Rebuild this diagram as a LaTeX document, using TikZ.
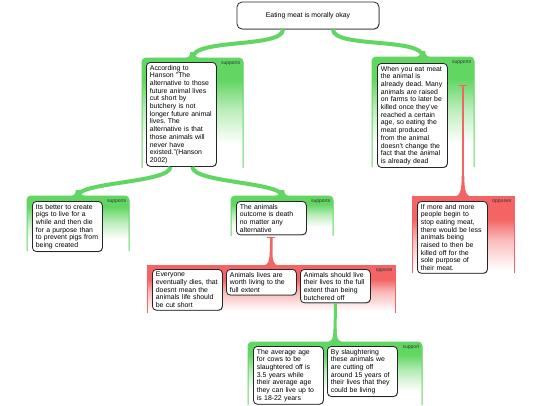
\documentclass[tikz,border=0pt]{standalone}
\usepackage{fontspec}
\setmainfont{Liberation Sans}
\usetikzlibrary{shadows}
\frenchspacing
\definecolor{gcol}{RGB}{98,214,98}
\definecolor{rcol}{RGB}{244,100,100}
\colorlet{gmid}{gcol!45!white}
\colorlet{rmid}{rcol!45!white}
\pgfdeclareverticalshading{gfade}{100bp}{color(0bp)=(white); color(36bp)=(white); color(52bp)=(gmid); color(65bp)=(gcol); color(100bp)=(gcol)}
\pgfdeclareverticalshading{rfade}{100bp}{color(0bp)=(white); color(27bp)=(white); color(47bp)=(rmid); color(60bp)=(rcol); color(100bp)=(rcol)}
\tikzset{
 tbox/.style={draw=black!85, line width=0.8pt, rounded corners=4pt, fill=white, text width=63pt, inner xsep=3.5pt, inner ysep=2.6pt, align=left, anchor=north west, font=\fontsize{6.9}{7.7}\selectfont, drop shadow={shadow xshift=0.5pt, shadow yshift=-0.5pt, fill=black!60, opacity=0.7}},
 lab/.style={font=\fontsize{5}{6}\selectfont, inner sep=0pt, text=black!80},
 gconn/.style={draw=gcol, line width=4pt},
 gconnb/.style={draw=gcol, line width=3pt},
 rconn/.style={draw=rcol, line width=2.6pt},
 rbar/.style={draw=rcol, line width=1.3pt},
}
% green panel: left, top, right, bottom, label, name
\newcommand{\gpanel}[6]{%
 \shade[shading=gfade] (#1,#4) -- (#1,#2+4) .. controls (#1,#2+1.8) and (#1+1.8,#2) .. (#1+4,#2) -- (#3-4,#2) .. controls (#3-1.8,#2) and (#3,#2+1.8) .. (#3,#2+4) -- (#3,#4) -- cycle;
 \draw[gcol, line width=1pt] (#1,#4) -- (#1,#2+4) .. controls (#1,#2+1.8) and (#1+1.8,#2) .. (#1+4,#2) -- (#3-4,#2) .. controls (#3-1.8,#2) and (#3,#2+1.8) .. (#3,#2+4) -- (#3,#4);
 \coordinate (#6) at ({(#1+#3)/2},#2);
 \node[lab, anchor=north east] (#6lab) at (#3-2.5,#2+3.5) {#5};}
% red panel
\newcommand{\rpanel}[6]{%
 \shade[shading=rfade] (#1,#4) rectangle (#3,#2);
 \draw[rcol, line width=1pt] (#1,#4) -- (#1,#2) -- (#3,#2) -- (#3,#4);
 \coordinate (#6) at ({(#1+#3)/2},#2);
 \node[lab, anchor=north east] (#6lab) at (#3-2.5,#2+3.5) {#5};}
\begin{document}
\begin{tikzpicture}[x=1pt,y=-1pt]
\useasboundingbox[fill=white] (0,0) rectangle (540,405);
% panels
\gpanel{142}{58}{243}{168}{supports}{P1}
\gpanel{372}{57}{474}{167}{supports}{P2}
\rpanel{412}{196}{514}{273}{opposes}{P3}
\gpanel{27}{196}{129}{251}{supports}{P4}
\gpanel{231}{196}{333}{236}{supports}{P5}
\rpanel{147}{265}{395}{313}{oppose}{P6}
\gpanel{248}{342}{422}{405}{support}{P7}
% nodes
\node[draw=black!85, line width=0.8pt, rounded corners=5pt, fill=white, minimum width=142pt, minimum height=27pt, font=\fontsize{6.9}{7.7}\selectfont, drop shadow={shadow xshift=0.5pt, shadow yshift=-0.5pt, fill=black!60, opacity=0.7}] (n0) at (308,15.5) {Eating meat is morally okay};
% connectors
\draw[gconn] ([xshift=-25pt]n0.south) .. controls +(0,19) and +(0,-20) .. (P1);
\draw[gconn] ([xshift=25pt]n0.south) .. controls +(0,19) and +(0,-20) .. (P2);
\node[tbox] (n1) at (146,62) {According to\\Hanson "The\\alternative to those\\future animal lives\\cut short by\\butchery is not\\longer future animal\\lives. The\\alternative is that\\those animals will\\never have\\existed."(Hanson\\2002)};
\node[tbox] (n2) at (377,63) {When you eat meat\\the animal is\\already dead. Many\\animals are raised\\on farms to later be\\killed once they've\\reached a certain\\age, so eating the\\meat produced\\from the animal\\doesn't change the\\fact that the animal\\is already dead};
\draw[gconn] ([xshift=-11pt]n1.south) .. controls +(0,16) and +(0,-14) .. (P4);
\draw[gconn] ([xshift=11pt]n1.south) .. controls +(0,16) and +(0,-14) .. (P5);
\foreach \p in {P1,P2,P4,P5}{
 \fill[gcol, shift={(\p)}] (-11,0.5) .. controls (-4,0.5) and (-2.2,-2) .. (-2.2,-6) -- (2.2,-6) .. controls (2.2,-2) and (4,0.5) .. (11,0.5) -- cycle;
}
\coordinate (T1) at (463,85.5);
\draw[rconn] (T1) -- (P3);
\draw[rbar] ([xshift=-4pt]T1) -- ([xshift=4pt]T1);
\fill[rcol, shift={(P3)}] (-9,0.5) .. controls (-3,0.5) and (-1.3,-5) .. (-1.3,-20) -- (1.3,-20) .. controls (1.3,-5) and (3,0.5) .. (9,0.5) -- cycle;
\node[tbox] (n3) at (417,201) {If more and more\\people begin to\\stop eating meat,\\there would be less\\animals being\\raised to then be\\killed off for the\\sole purpose of\\their meat.};
\node[tbox] (n4) at (32,201) {Its better to create\\pigs to live for a\\while and then die\\for a purpose than\\to prevent pigs from\\being created};
\node[tbox] (n5) at (236,201) {The animals\\outcome is death\\no matter any\\alternative};
\coordinate (T2) at ([yshift=-2pt]n5.south);
\draw[rconn] (T2) -- (P6);
\draw[rbar] ([xshift=-4pt]T2) -- ([xshift=4pt]T2);
\fill[rcol, shift={(P6)}] (-8,0.5) .. controls (-3,0.5) and (-1.3,-4) .. (-1.3,-13) -- (1.3,-13) .. controls (1.3,-4) and (3,0.5) .. (8,0.5) -- cycle;
\node[tbox] (nA) at (152,269) {Everyone\\eventually dies, that\\doesnt mean the\\animals life should\\be cut short};
\node[tbox] (nB) at (226,269) {Animals lives are\\worth living to the\\full extent};
\node[tbox] (nC) at (300,269) {Animals should live\\their lives to the full\\extent than being\\butchered off};
\draw[gconnb] (nC.south) -- (P7);
\fill[gcol, shift={(P7)}] (-10,0.5) .. controls (-3.5,0.5) and (-1.5,-3) .. (-1.5,-13) -- (1.5,-13) .. controls (1.5,-3) and (3.5,0.5) .. (10,0.5) -- cycle;
\node[tbox] (nD) at (253,346) {The average age\\for cows to be\\slaughtered off is\\3.5 years while\\their average age\\they can live up to\\is 18-22 years};
\node[tbox] (nE) at (327,346) {By slaughtering\\these animals we\\are cutting off\\around 15 years of\\their lives that they\\could be living};
\end{tikzpicture}
\end{document}
